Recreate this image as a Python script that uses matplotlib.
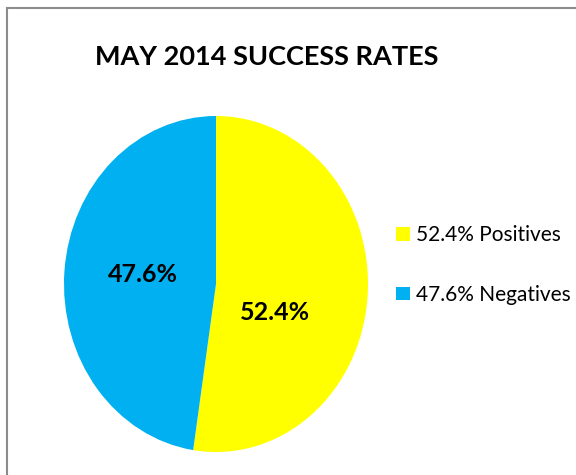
import matplotlib.pyplot as plt
from matplotlib.patches import Rectangle

# --- data ---
categories = ["Positives", "Negatives"]
rates = [52.4, 47.6]
colors = ["#FFFF00", "#00B0F0"]
title = "MAY 2014 SUCCESS RATES"

plt.rcParams["font.family"] = ["Lato", "DejaVu Sans"]

W, H = 576, 475
fig = plt.figure(figsize=(W / 100, H / 100), dpi=100)

# chart border (right and bottom run off the picture)
fig.patches.append(Rectangle((7 / W, -0.1), 1.2, 1 - 8 / H + 0.1,
                             transform=fig.transFigure, fill=False,
                             edgecolor="#8c8c8c", linewidth=1.5))

# pie box in pixels: left 64, right 368, top 116, bottom 452
ax = fig.add_axes([64 / W, (H - 452) / H, 304 / W, 336 / H])
wedges, _ = ax.pie(rates, colors=colors, startangle=90, counterclock=False,
                   wedgeprops=dict(linewidth=0))
ax.set_aspect("auto")
ax.set_xlim(-1, 1)
ax.set_ylim(-1, 1)

# data labels (placed like Excel's best fit)
label_pos = [(0.39, -0.17), (-0.48, 0.055)]
for (x, y), v in zip(label_pos, rates):
    ax.text(x, y, f"{v}%", ha="center", va="center",
            fontsize=18, fontweight="bold", color="black")

fig.text(267 / W, 1 - 57 / H, title, ha="center", va="center",
         fontsize=19.5, fontweight="bold", color="black")

fig.legend(wedges, [f"{v}% {c}" for v, c in zip(rates, categories)],
           loc="center left", bbox_to_anchor=(386 / W, 1 - 265 / H),
           frameon=False, fontsize=15, handlelength=0.63, handleheight=0.63,
           handletextpad=0.3, labelspacing=1.9, borderpad=0)

fig.savefig("out.png", dpi=100)
